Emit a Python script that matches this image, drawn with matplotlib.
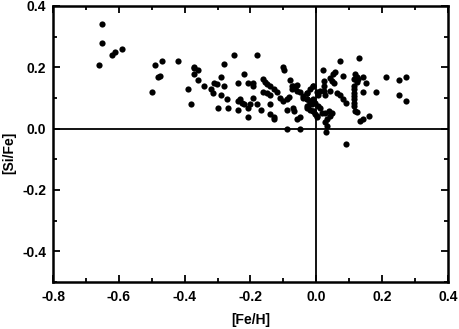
import numpy as np
import matplotlib.pyplot as plt
from matplotlib.ticker import MultipleLocator

# [Fe/H] and [Si/Fe]
fe_h = [-0.650, -0.650, -0.660, -0.622, -0.612, -0.589,
        -0.500, -0.490, -0.480, -0.470, -0.475,
        -0.419, -0.250, -0.179, -0.371, -0.371, -0.371, -0.358, -0.279, -0.290,
        -0.359, -0.389, -0.380, -0.340, -0.321, -0.310, -0.302, -0.313, -0.290,
        -0.279, -0.270, -0.299, -0.269, -0.220, -0.239, -0.209, -0.191, -0.191,
        -0.239, -0.232, -0.226, -0.239, -0.220, -0.209, -0.209, -0.191, -0.200,
        -0.179, -0.169, -0.161, -0.156, -0.150, -0.140, -0.130, -0.120, -0.161,
        -0.150, -0.140, -0.140, -0.140, -0.130, -0.128, -0.100, -0.098, -0.080,
        -0.070, -0.059, -0.074, -0.110, -0.100, -0.090, -0.083, -0.090, -0.070,
        -0.068, -0.049, -0.039, -0.029, -0.027, -0.019, -0.029, -0.019, -0.009,
        0.001, -0.059, -0.049, -0.090, -0.049, -0.009, 0.001,
        0.072, 0.131, 0.021, 0.050, 0.057, 0.042, 0.047, 0.055, 0.081,
        0.118, 0.123, 0.115, 0.128, 0.123, 0.141, 0.151, 0.212, 0.252, 0.272,
        0.252, 0.272, 0.182, 0.141, 0.113, 0.113, 0.113, 0.113, 0.113, 0.113,
        0.113, 0.118, 0.123, 0.133, 0.141, 0.161, 0.091, 0.081, 0.091, 0.062,
        0.072, 0.042, 0.022, 0.022, 0.022, 0.027, 0.012, 0.006, -0.009, -0.019,
        -0.009, -0.004, 0.001, 0.017, 0.027, 0.037, 0.047, 0.042, 0.032, 0.027,
        0.032, 0.030, 0.012, 0.006, -0.074, -0.064, -0.059,
        -0.029, -0.039, -0.029, -0.019, -0.009, -0.004, -0.014, -0.024, -0.029]
si_fe = [0.340, 0.280, 0.209, 0.239, 0.250, 0.259,
         0.119, 0.209, 0.169, 0.220, 0.171,
         0.220, 0.239, 0.239, 0.202, 0.196, 0.179, 0.190, 0.210, 0.169,
         0.160, 0.128, 0.081, 0.139, 0.130, 0.150, 0.144, 0.117, 0.110,
         0.139, 0.098, 0.068, 0.068, 0.179, 0.150, 0.150, 0.150, 0.139,
         0.090, 0.097, 0.084, 0.060, 0.079, 0.068, 0.038, 0.101, 0.080,
         0.081, 0.060, 0.161, 0.153, 0.144, 0.139, 0.128, 0.120, 0.120,
         0.117, 0.111, 0.081, 0.049, 0.038, 0.030, 0.202, 0.190, 0.158,
         0.139, 0.141, 0.128, 0.101, 0.090, 0.095, 0.104, 0.060, 0.068,
         0.059, 0.119, 0.101, 0.117, 0.097, 0.084, 0.073, 0.062, 0.139,
         0.119, 0.030, 0.038, 0.000, 0.000, 0.057, 0.040,
         0.219, 0.230, 0.190, 0.179, 0.183, 0.164, 0.155, 0.150, 0.171,
         0.177, 0.168, 0.161, 0.161, 0.152, 0.169, 0.150, 0.169, 0.158, 0.169,
         0.111, 0.090, 0.120, 0.120, 0.139, 0.128, 0.117, 0.106, 0.095, 0.084,
         0.073, 0.059, 0.053, 0.024, 0.030, 0.040, -0.050, 0.097, 0.084, 0.117,
         0.111, 0.122, 0.155, 0.139, 0.122, 0.108, 0.122, 0.111, 0.139, 0.128,
         0.057, 0.046, 0.038, 0.051, 0.051, 0.057, 0.051, 0.040, 0.030, 0.021,
         0.010, -0.012, 0.068, 0.073, 0.139, 0.133, 0.122,
         0.117, 0.106, 0.095, 0.090, 0.097, 0.084, 0.079, 0.073, 0.068]

plt.rcParams['font.family'] = ['Liberation Sans', 'DejaVu Sans']
plt.rcParams['font.weight'] = 'bold'
plt.rcParams['axes.unicode_minus'] = False

fig = plt.figure(figsize=(4.59, 3.29), dpi=100)
ax = fig.add_axes([0.1155, 0.143, 0.8605, 0.839])

ax.scatter(fe_h, si_fe, s=20, color='black', linewidths=0, zorder=3)
ax.axhline(0, color='black', lw=1.3)
ax.axvline(0, color='black', lw=1.3)

ax.set_xlim(-0.8, 0.4)
ax.set_ylim(-0.5, 0.4)
ax.xaxis.set_major_locator(MultipleLocator(0.2))
ax.xaxis.set_minor_locator(MultipleLocator(0.1))
ax.yaxis.set_major_locator(MultipleLocator(0.2))
ax.yaxis.set_minor_locator(MultipleLocator(0.1))
ax.tick_params(which='both', direction='in', top=True, right=True,
               width=1.3, labelsize=10)
ax.tick_params(axis='x', pad=6)
ax.tick_params(axis='y', pad=5)
ax.tick_params(which='major', length=5)
ax.tick_params(which='minor', length=3)
for sp in ax.spines.values():
    sp.set_linewidth(1.8)

ax.set_xlabel('[Fe/H]', fontsize=10, fontweight='bold')
ax.set_ylabel('[Si/Fe]', fontsize=10, fontweight='bold')
ax.xaxis.set_label_coords(0.5, -0.112)
ax.yaxis.set_label_coords(-0.093, 0.467)

fig.savefig('out.png', dpi=100)
